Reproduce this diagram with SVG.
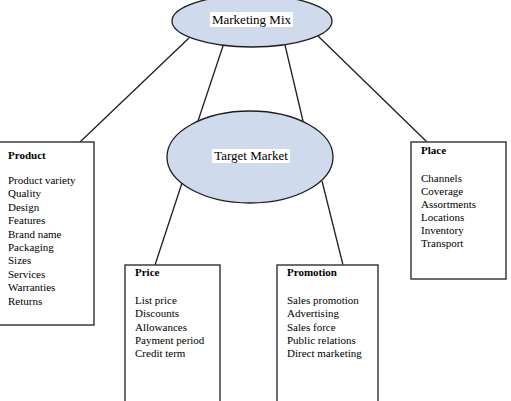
<svg xmlns="http://www.w3.org/2000/svg" width="511" height="401" viewBox="0 0 511 401">
<style>
.bg{fill:#ffffff}
.ell{fill:#cfdaed;stroke:#1e1e1e;stroke-width:1.3}
.box{fill:#ffffff;stroke:#3c3c3c;stroke-width:1.5}
.lbl{fill:#ffffff}
text{font-family:"Liberation Serif","Times New Roman",serif;fill:#000}
.t13{font-size:13px}
.t11{font-size:11px}
.b{font-weight:bold}
.conn line{stroke:#1e1e1e;stroke-width:1.3}
</style>
<rect class="bg" x="0" y="0" width="511" height="401"/>
<g id="connectors" class="conn">
<line x1="80" y1="142" x2="189" y2="38"/>
<line x1="198" y1="121" x2="223" y2="46"/>
<line x1="303" y1="121" x2="285" y2="45"/>
<line x1="427" y1="142" x2="318" y2="36"/>
<line x1="182" y1="183" x2="155" y2="265"/>
<line x1="322" y1="181" x2="343" y2="265"/>
</g>
<g id="marketing-mix">
<ellipse class="ell" cx="252" cy="21" rx="80" ry="26"/>
<rect class="lbl" x="210" y="12" width="83" height="15"/>
<text class="t13" x="251.5" y="24" text-anchor="middle">Marketing Mix</text>
</g>
<g id="target-market">
<ellipse class="ell" cx="250" cy="157" rx="83" ry="46"/>
<rect class="lbl" x="212" y="149" width="78" height="14"/>
<text class="t13" x="251" y="160" text-anchor="middle">Target Market</text>
</g>
<g id="product">
<rect class="box" x="-1" y="142" width="95" height="183"/>
<text class="t11 b" x="8" y="159">Product</text>
<text class="t11" x="8" y="184">Product variety</text>
<text class="t11" x="8" y="197.4">Quality</text>
<text class="t11" x="8" y="210.8">Design</text>
<text class="t11" x="8" y="224.2">Features</text>
<text class="t11" x="8" y="237.6">Brand name</text>
<text class="t11" x="8" y="251">Packaging</text>
<text class="t11" x="8" y="264.4">Sizes</text>
<text class="t11" x="8" y="277.8">Services</text>
<text class="t11" x="8" y="291.2">Warranties</text>
<text class="t11" x="8" y="304.6">Returns</text>
</g>
<g id="price">
<rect class="box" x="125" y="265" width="95" height="145"/>
<text class="t11 b" x="135" y="276">Price</text>
<text class="t11" x="135" y="304">List price</text>
<text class="t11" x="135" y="317.3">Discounts</text>
<text class="t11" x="135" y="330.6">Allowances</text>
<text class="t11" x="135" y="343.9">Payment period</text>
<text class="t11" x="135" y="357.2">Credit term</text>
</g>
<g id="promotion">
<rect class="box" x="277" y="265" width="101" height="145"/>
<text class="t11 b" x="287" y="276">Promotion</text>
<text class="t11" x="287" y="304">Sales promotion</text>
<text class="t11" x="287" y="317.3">Advertising</text>
<text class="t11" x="287" y="330.6">Sales force</text>
<text class="t11" x="287" y="343.9">Public relations</text>
<text class="t11" x="287" y="357.2">Direct marketing</text>
</g>
<g id="place">
<rect class="box" x="411" y="142" width="95" height="137"/>
<text class="t11 b" x="421" y="154">Place</text>
<text class="t11" x="421" y="182">Channels</text>
<text class="t11" x="421" y="195">Coverage</text>
<text class="t11" x="421" y="208">Assortments</text>
<text class="t11" x="421" y="221">Locations</text>
<text class="t11" x="421" y="234">Inventory</text>
<text class="t11" x="421" y="247">Transport</text>
</g>
</svg>
